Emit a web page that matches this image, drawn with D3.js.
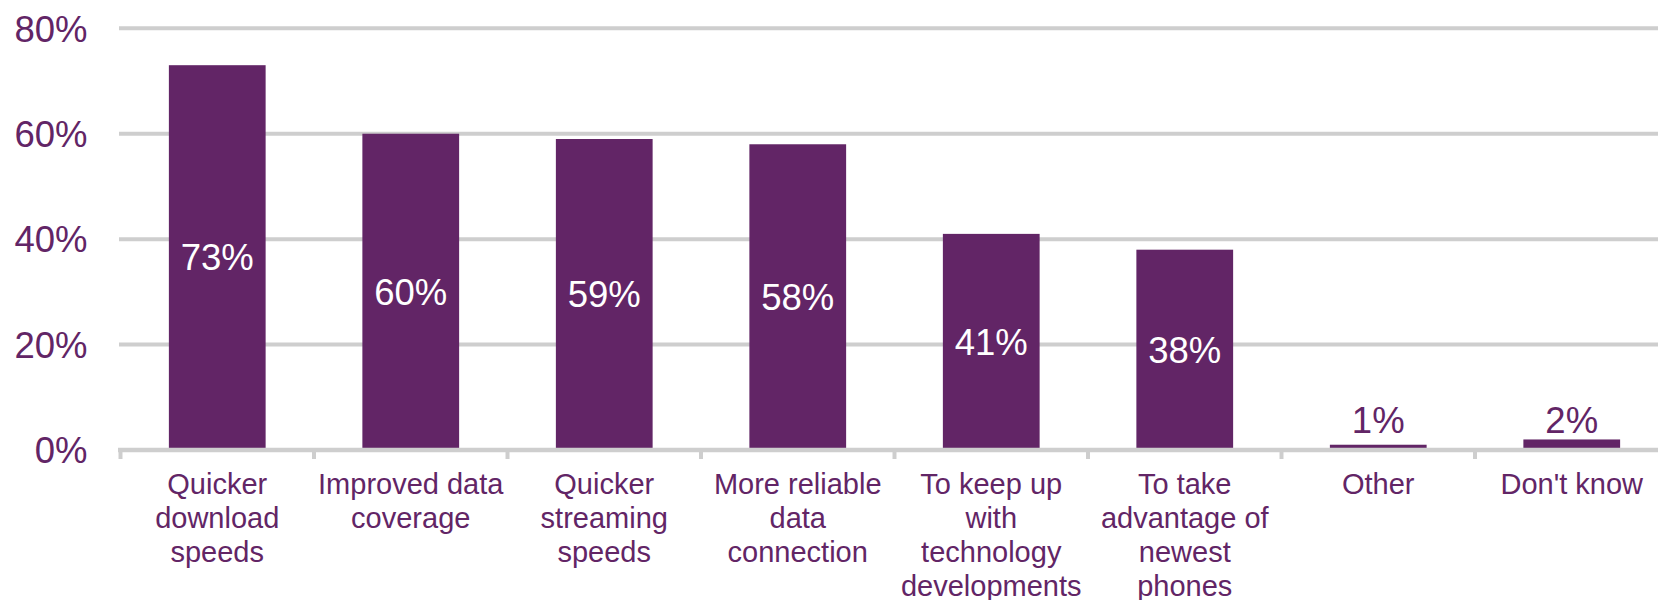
<!DOCTYPE html>
<html>
<head>
<meta charset="utf-8">
<script src="https://cdn.jsdelivr.net/npm/d3@7/dist/d3.min.js"></script>
<style>
  html, body { margin: 0; padding: 0; background: #ffffff; }
  svg { display: block; font-family: "Liberation Sans", Arial, sans-serif; }
</style>
</head>
<body>
<svg id="chart" width="1658" height="600"></svg>
<script>
// Reasons for wanting a faster mobile network (share of respondents)
const categories = [
  "Quicker download speeds",
  "Improved data coverage",
  "Quicker streaming speeds",
  "More reliable data connection",
  "To keep up with technology developments",
  "To take advantage of newest phones",
  "Other",
  "Don't know"
];
const values = [73, 60, 59, 58, 41, 38, 1, 2];
const yTicks = [0, 20, 40, 60, 80];

const purple = "#622566";
const grey = "#cecece";

const svg = d3.select("#chart");
const plotLeft = 120.5, step = 193.5;

const x = d3.scaleBand()
  .domain(categories)
  .range([plotLeft, plotLeft + step * categories.length])
  .paddingInner(0.5)
  .paddingOuter(0.25);

const y = d3.scaleLinear().domain([0, 80]).range([450, 28.3]);

// Horizontal gridlines
svg.append("g")
  .selectAll("line")
  .data(yTicks.filter(t => t > 0))
  .join("line")
  .attr("x1", 119).attr("x2", plotLeft + step * categories.length)
  .attr("y1", d => y(d)).attr("y2", d => y(d))
  .attr("stroke", grey).attr("stroke-width", 4);

// Y axis labels
const yAxis = d3.axisLeft(y).tickValues(yTicks).tickFormat(d => d + "%").tickSize(0).tickPadding(0);
const yg = svg.append("g").attr("transform", "translate(87.5,0)").call(yAxis);
yg.select(".domain").remove();
yg.selectAll("text")
  .attr("fill", purple)
  .attr("font-size", "36.5px")
  .attr("font-family", "'Liberation Sans', Arial, sans-serif")
  .attr("dy", "0.35em");

// Bars
svg.append("g")
  .selectAll("rect")
  .data(values)
  .join("rect")
  .attr("x", (d, i) => x(categories[i]))
  .attr("width", x.bandwidth())
  .attr("y", d => y(d))
  .attr("height", d => y(0) - y(d))
  .attr("fill", purple);

// X axis line with category boundary ticks
const xg = svg.append("g");
xg.append("line")
  .attr("x1", 118).attr("x2", plotLeft + step * categories.length)
  .attr("y1", y(0)).attr("y2", y(0))
  .attr("stroke", grey).attr("stroke-width", 4.5);
xg.selectAll("line.tick")
  .data(d3.range(categories.length + 1))
  .join("line")
  .attr("class", "tick")
  .attr("x1", i => plotLeft + i * x.step())
  .attr("x2", i => plotLeft + i * x.step())
  .attr("y1", y(0)).attr("y2", 459)
  .attr("stroke", grey).attr("stroke-width", 4);

// Category labels, wrapped to the band width
function wrapLines(text, maxWidth, measure) {
  const words = text.split(" ");
  const lines = [];
  let line = words[0];
  for (let k = 1; k < words.length; k++) {
    const test = line + " " + words[k];
    if (measure(test) <= maxWidth) line = test;
    else { lines.push(line); line = words[k]; }
  }
  lines.push(line);
  return lines;
}
const probe = svg.append("text").attr("font-size", "29px").attr("visibility", "hidden");
const measure = s => { probe.text(s); return probe.node().getComputedTextLength(); };

const labels = svg.append("g");
categories.forEach(c => {
  const lines = wrapLines(c, 190, measure);
  const t = labels.append("text")
    .attr("text-anchor", "middle")
    .attr("font-size", "29px")
    .attr("fill", purple)
    .attr("x", x(c) + x.bandwidth() / 2)
    .attr("y", 494.3);
  lines.forEach((ln, j) => {
    t.append("tspan")
      .attr("x", x(c) + x.bandwidth() / 2)
      .attr("dy", j === 0 ? 0 : 33.8)
      .text(ln);
  });
});
probe.remove();

// Value labels: centred in the bar, or resting above the axis when the bar is too short
svg.append("g")
  .selectAll("text")
  .data(values)
  .join("text")
  .attr("text-anchor", "middle")
  .attr("font-size", "36.5px")
  .attr("x", (d, i) => x(categories[i]) + x.bandwidth() / 2)
  .attr("y", d => {
    const mid = (y(d) + y(0)) / 2 + 12.8;
    return Math.min(mid, y(0) - 17);
  })
  .attr("fill", d => (y(0) - y(d)) > 45 ? "#ffffff" : purple)
  .text(d => d + "%");
</script>
</body>
</html>
